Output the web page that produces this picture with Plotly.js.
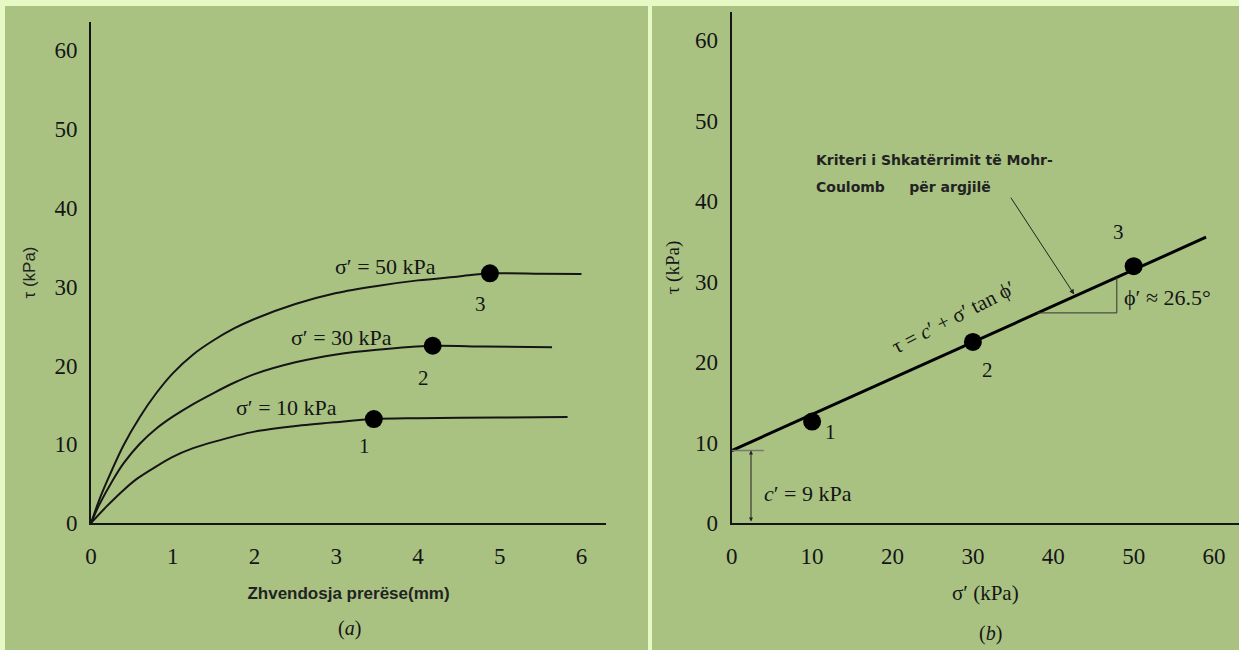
<!DOCTYPE html>
<html><head><meta charset="utf-8">
<script src="https://cdn.plot.ly/plotly-3.0.1.min.js"></script>
<style>html,body{margin:0;padding:0;background:#e6f8c4;}#chart{width:1239px;height:650px;}</style>
</head><body><div id="chart"></div>
<script>
// ---------- Panel (a): shear stress vs shear displacement ----------
const disp50 = [0, 0.1, 0.2, 0.4, 0.6, 0.8, 1.0, 1.25, 1.5, 1.75, 2.0, 2.5, 3.0, 3.5, 4.0, 4.5, 4.88, 5.5, 6.0];
const tau50  = [0, 2.9, 5.4, 9.9, 13.5, 16.5, 19.0, 21.4, 23.2, 24.7, 25.9, 27.8, 29.2, 30.1, 30.8, 31.3, 31.7, 31.65, 31.6];
const disp30 = [0, 0.1, 0.27, 0.4, 0.6, 0.8, 1.0, 1.25, 1.5, 1.75, 2.0, 2.5, 3.0, 3.5, 4.18, 4.8, 5.64];
const tau30  = [0, 2.3, 5.5, 7.6, 10.1, 12.0, 13.5, 15.1, 16.5, 17.8, 18.9, 20.4, 21.4, 22.0, 22.5, 22.4, 22.3];
const disp10 = [0, 0.2, 0.4, 0.56, 0.8, 1.0, 1.25, 1.5, 2.0, 2.5, 3.0, 3.46, 4.0, 5.0, 5.83];
const tau10  = [0, 2.2, 4.2, 5.6, 7.2, 8.4, 9.5, 10.3, 11.6, 12.3, 12.8, 13.2, 13.3, 13.4, 13.45];
const failDisp = [4.88, 4.18, 3.46];
const failTau  = [31.7, 22.5, 13.2];
const failIds  = ['3', '2', '1'];
const curveNames = ['σ′ = 50 kPa', 'σ′ = 30 kPa', 'σ′ = 10 kPa'];
const xTicksA = [0, 1, 2, 3, 4, 5, 6];
const yTicks  = [0, 10, 20, 30, 40, 50, 60];

// ---------- Panel (b): Mohr-Coulomb failure envelope ----------
const sigmaN = [10, 30, 50];
const tauF   = [12.6, 22.5, 31.9];
const envSigma = [0, 59];
const envTau   = [9, 35.5];
const triSigma = [38, 47.9, 47.9];
const triTau   = [26.1, 26.1, 30.5];
const cohesion = 9;
const xTicksB = [0, 10, 20, 30, 40, 50, 60];

const W = 1239, H = 650;
const px = x => x / W;
const py = y => 1 - y / H;

const serif = 'Liberation Serif, Times New Roman, serif';
const sans = 'Liberation Sans, Arial, sans-serif';
const ink = '#151515';

const traces = [
  {x: disp50, y: tau50, xaxis: 'x', yaxis: 'y', mode: 'lines', line: {color: ink, width: 2, shape: 'spline', smoothing: 0.8}, hoverinfo: 'skip'},
  {x: disp30, y: tau30, xaxis: 'x', yaxis: 'y', mode: 'lines', line: {color: ink, width: 2, shape: 'spline', smoothing: 0.8}, hoverinfo: 'skip'},
  {x: disp10, y: tau10, xaxis: 'x', yaxis: 'y', mode: 'lines', line: {color: ink, width: 2, shape: 'spline', smoothing: 0.8}, hoverinfo: 'skip'},
  {x: failDisp, y: failTau, xaxis: 'x', yaxis: 'y', mode: 'markers', marker: {color: '#000', size: 18}, hoverinfo: 'skip'},
  {x: envSigma, y: envTau, xaxis: 'x2', yaxis: 'y2', mode: 'lines', line: {color: '#000', width: 3}, hoverinfo: 'skip'},
  {x: triSigma, y: triTau, xaxis: 'x2', yaxis: 'y2', mode: 'lines', line: {color: '#333', width: 1}, hoverinfo: 'skip'},
  {x: sigmaN, y: tauF, xaxis: 'x2', yaxis: 'y2', mode: 'markers', marker: {color: '#000', size: 18}, hoverinfo: 'skip'}
];

const tickFont = {family: serif, size: 23, color: ink};
const axBase = {showline: true, linecolor: ink, linewidth: 2, showgrid: false, zeroline: false,
  ticks: 'outside', tickcolor: 'rgba(0,0,0,0)', fixedrange: true, tickfont: tickFont};

const annotations = [];
const labPos = [[3.6, 32.6], [3.07, 23.6], [2.39, 14.6]];
curveNames.forEach((t, i) => annotations.push({xref: 'x', yref: 'y', x: labPos[i][0], y: labPos[i][1], text: t, showarrow: false, font: {family: serif, size: 22, color: ink}}));
const idPosA = [[4.77, 27.8], [4.07, 18.4], [3.34, 9.8]];
failIds.forEach((t, i) => annotations.push({xref: 'x', yref: 'y', x: idPosA[i][0], y: idPosA[i][1], text: t, showarrow: false, font: {family: serif, size: 21, color: ink}}));
const idPosB = [[12.3, 11.3], [31.8, 19.0], [48.1, 36.1]];
['1', '2', '3'].forEach((t, i) => annotations.push({xref: 'x2', yref: 'y2', x: idPosB[i][0], y: idPosB[i][1], text: t, showarrow: false, font: {family: serif, size: 21, color: ink}}));
annotations.push(
  {xref: 'paper', yref: 'paper', x: px(349), y: py(628), xanchor: 'center', yanchor: 'middle', text: '(<i>a</i>)', showarrow: false, font: {family: serif, size: 20, color: ink}},
  {xref: 'paper', yref: 'paper', x: px(990), y: py(633), xanchor: 'center', yanchor: 'middle', text: '(<i>b</i>)', showarrow: false, font: {family: serif, size: 20, color: ink}},
  {xref: 'x2', yref: 'y2', x: 27.6, y: 25.6, text: 'τ = <i>c</i>′ + σ′ tan ϕ′', textangle: -27, showarrow: false, font: {family: serif, size: 21, color: ink}},
  {xref: 'x2', yref: 'y2', x: 48.5, y: 28.0, xanchor: 'left', text: 'ϕ′ ≈ 26.5°', showarrow: false, font: {family: serif, size: 22, color: ink}},
  {xref: 'x2', yref: 'y2', x: 3.75, y: 3.7, xanchor: 'left', text: '<i>c</i>′ = 9 kPa', showarrow: false, font: {family: serif, size: 22, color: ink}},
  {xref: 'paper', yref: 'paper', x: px(814), y: py(160), xanchor: 'left', yanchor: 'middle', text: 'Kriteri i Shkatërrimit të Mohr-', showarrow: false, font: {family: 'DejaVu Sans, sans-serif', size: 14, color: '#222', weight: 'bold'}},
  {xref: 'paper', yref: 'paper', x: px(814), y: py(187), xanchor: 'left', yanchor: 'middle', text: 'Coulomb     për argjilë', showarrow: false, font: {family: 'DejaVu Sans, sans-serif', size: 14, color: '#222', weight: 'bold'}},
  {xref: 'x2', yref: 'y2', axref: 'x2', ayref: 'y2', x: 42.6, y: 28.4, ax: 34.6, ay: 40.6, text: '', showarrow: true, arrowhead: 2, arrowsize: 1, arrowwidth: 1, arrowcolor: '#222'},
  {xref: 'x2', yref: 'y2', axref: 'x2', ayref: 'y2', x: 2.4, y: cohesion, ax: 2.4, ay: 0, text: '', showarrow: true, arrowhead: 2, arrowside: 'end+start', arrowsize: 0.8, arrowwidth: 1, arrowcolor: '#222'}
);

const shapes = [
  {type: 'rect', xref: 'paper', yref: 'paper', x0: px(5), x1: px(648), y0: 0, y1: py(6), fillcolor: '#a9c282', line: {width: 0}, layer: 'below'},
  {type: 'rect', xref: 'paper', yref: 'paper', x0: px(652), x1: 1, y0: 0, y1: py(6), fillcolor: '#a9c282', line: {width: 0}, layer: 'below'},
  {type: 'line', xref: 'x2', yref: 'y2', x0: 0, x1: 4, y0: cohesion, y1: cohesion, line: {color: '#777', width: 1.5}}
];

const layout = {
  width: W, height: H, margin: {l: 0, r: 0, t: 0, b: 0},
  paper_bgcolor: '#e6f8c4', plot_bgcolor: 'rgba(0,0,0,0)', showlegend: false,
  xaxis: Object.assign({}, axBase, {domain: [px(91), px(606)], range: [0, 6.3], anchor: 'y', tickvals: xTicksA, ticklen: 11,
    title: {text: 'Zhvendosja prerëse(mm)', standoff: 20, font: {family: sans, size: 17, color: '#222', weight: 'bold'}}}),
  yaxis: Object.assign({}, axBase, {domain: [py(523), py(22)], range: [0, 63.6], anchor: 'x', tickvals: yTicks, ticklen: 7,
    title: {text: 'τ (kPa)', standoff: 14, font: {family: sans, size: 17, color: '#222'}}}),
  xaxis2: Object.assign({}, axBase, {domain: [px(731.7), 1], range: [0, 63.1], anchor: 'y2', tickvals: xTicksB, ticklen: 11,
    title: {text: 'σ′ (kPa)', standoff: 18, font: {family: serif, size: 21, color: ink}}}),
  yaxis2: Object.assign({}, axBase, {domain: [py(523), py(12)], range: [0, 63.48], anchor: 'x2', tickvals: yTicks, ticklen: 7,
    title: {text: 'τ (kPa)', standoff: 10, font: {family: serif, size: 19, color: ink}}}),
  annotations: annotations, shapes: shapes
};

Plotly.newPlot('chart', traces, layout, {displayModeBar: false, staticPlot: true});
</script>
</body></html>
